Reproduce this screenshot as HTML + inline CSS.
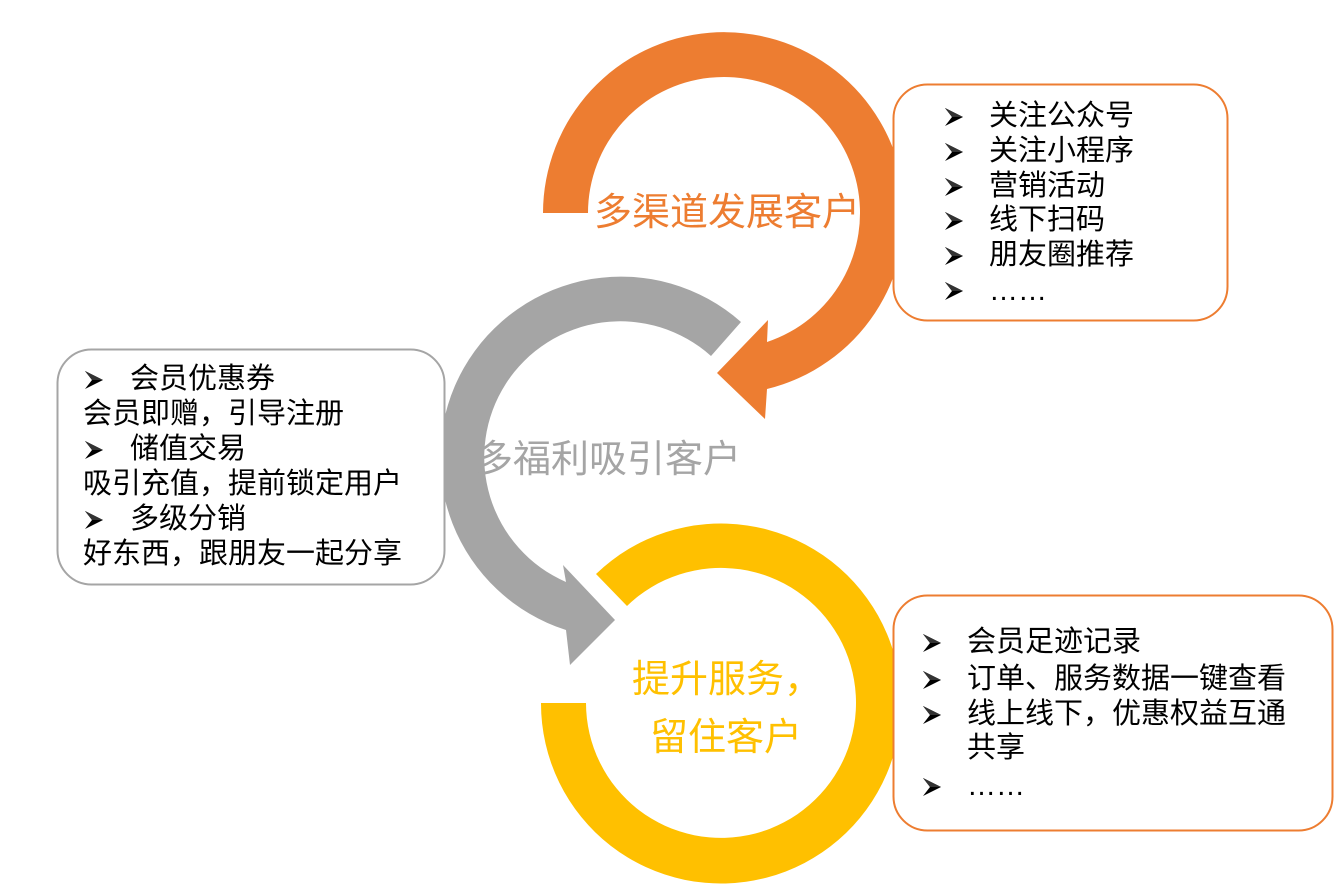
<!DOCTYPE html>
<html><head><meta charset="utf-8"><style>
html,body{margin:0;padding:0;background:#fff;}
body{width:1334px;height:890px;position:relative;overflow:hidden;font-family:"Liberation Sans","Noto Sans CJK SC",sans-serif;}
svg.bg{position:absolute;left:0;top:0;}
.t{position:absolute;font-size:29px;line-height:35px;color:#000;white-space:nowrap;}
.lab{position:absolute;font-size:38px;line-height:44px;white-space:nowrap;}
</style></head><body>
<svg class="bg" width="1334" height="890" viewBox="0 0 1334 890">
 <path d="M543,213 A181,181 0 1 1 767,389 L765,419 L717,373 L768,320 L767,342 A136,136 0 1 0 588,213 Z" fill="#ED7D31"/>
 <path d="M741,322 A181,181 0 1 0 566,630 L570,665 L615,620 L563,565 L566,582 A136,136 0 1 1 711,356 Z" fill="#A5A5A5"/>
 <path d="M541,703 A180,180 0 1 0 596,574 L627,606 A135,135 0 1 1 586,703 Z" fill="#FFC000"/>
 <rect x="893.5" y="84.5" width="334" height="236" rx="34" fill="#fff" stroke="#ED7D31" stroke-width="2"/>
 <rect x="57.5" y="349.5" width="387" height="235" rx="34" fill="#fff" stroke="#A5A5A5" stroke-width="2"/>
 <rect x="893.5" y="595.5" width="439" height="235" rx="34" fill="#fff" stroke="#ED7D31" stroke-width="2"/>
 <defs><g id="ar"><polygon points="0,0 18,9 0,18 7,9" fill="#000"/><polygon points="0,0 18,9 7,9" fill="#333"/></g></defs>
 <use href="#ar" x="945" y="108"/><use href="#ar" x="945" y="143"/><use href="#ar" x="945" y="178"/>
 <use href="#ar" x="945" y="212"/><use href="#ar" x="945" y="247"/><use href="#ar" x="945" y="282"/>
 <use href="#ar" x="85" y="371"/><use href="#ar" x="85" y="441"/><use href="#ar" x="85" y="511"/>
 <use href="#ar" x="923" y="634"/><use href="#ar" x="923" y="671"/><use href="#ar" x="923" y="706"/><use href="#ar" x="923" y="778"/>
</svg>

<div class="lab" style="left:594px;top:191px;color:#ED7D31;">多渠道发展客户</div>
<div class="lab" style="left:475px;top:438px;color:#A5A5A5;">多福利吸引客户</div>
<div class="lab" style="left:632px;top:658px;color:#FFC000;">提升服务，</div>
<div class="lab" style="left:650px;top:716px;color:#FFC000;">留住客户</div>

<div class="t" style="left:989px;top:99px;">关注公众号</div>
<div class="t" style="left:989px;top:134px;">关注小程序</div>
<div class="t" style="left:989px;top:169px;">营销活动</div>
<div class="t" style="left:989px;top:203px;">线下扫码</div>
<div class="t" style="left:989px;top:238px;">朋友圈推荐</div>
<div class="t" style="left:989px;top:274px;">……</div>

<div class="t" style="left:130px;top:362px;">会员优惠券</div>
<div class="t" style="left:83px;top:397px;">会员即赠，引导注册</div>
<div class="t" style="left:130px;top:432px;">储值交易</div>
<div class="t" style="left:83px;top:467px;">吸引充值，提前锁定用户</div>
<div class="t" style="left:130px;top:502px;">多级分销</div>
<div class="t" style="left:83px;top:537px;">好东西，跟朋友一起分享</div>

<div class="t" style="left:967px;top:625px;">会员足迹记录</div>
<div class="t" style="left:967px;top:662px;">订单、服务数据一键查看</div>
<div class="t" style="left:967px;top:697px;">线上线下，优惠权益互通</div>
<div class="t" style="left:967px;top:731px;">共享</div>
<div class="t" style="left:967px;top:769px;">……</div>
</body></html>
